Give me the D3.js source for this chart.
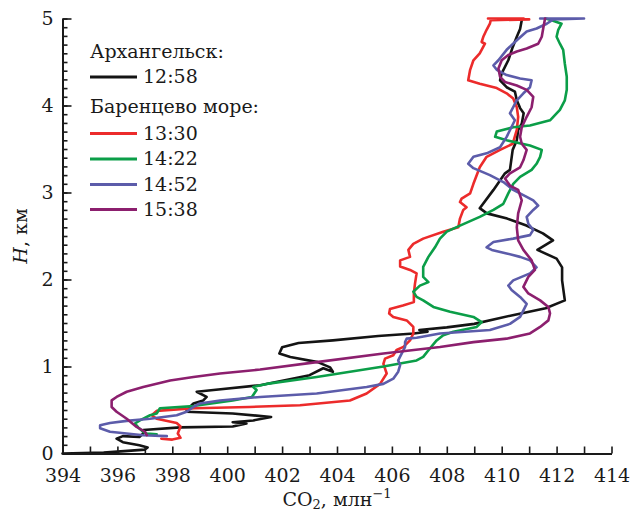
<!DOCTYPE html>
<html>
<head>
<meta charset="utf-8">
<script src="https://cdn.jsdelivr.net/npm/d3@7"></script>
<style>
  body { margin: 0; background: #fff; }
  text { font-family: "DejaVu Serif", serif; fill: #1a1a1a; }
</style>
</head>
<body>
<div class="chart"></div>
<script>
// CO2 profiles, [CO2 ppm, H km], bottom to top
let black1258 = [[394.0,0.00],[395.5,0.01],[397.0,0.045],[397.1,0.07],[396.8,0.095],[396.2,0.13],[395.97,0.17],[396.2,0.20],[396.8,0.19],[396.94,0.23],[396.94,0.27],[398.3,0.30],[400.2,0.31],[400.7,0.345],[400.2,0.36],[400.95,0.38],[401.6,0.42],[400.2,0.46],[398.5,0.48],[398.64,0.535],[398.77,0.575],[399.13,0.61],[399.25,0.65],[398.89,0.71],[399.5,0.73],[401.2,0.785],[403.0,0.90],[403.5,0.98],[403.85,0.94],[403.75,0.99],[403.3,1.05],[402.3,1.11],[401.9,1.15],[402.0,1.22],[402.6,1.27],[403.85,1.30],[405.5,1.35],[406.8,1.38],[407.3,1.40],[407.0,1.42],[408.0,1.45],[409.0,1.49],[410.4,1.59],[411.6,1.67],[412.3,1.76],[412.2,1.99],[412.2,2.14],[412.0,2.24],[411.3,2.34],[411.87,2.45],[411.5,2.53],[410.9,2.62],[410.2,2.70],[409.46,2.76],[409.2,2.82],[409.7,3.03],[410.12,3.22],[410.3,3.26],[410.4,3.49],[410.55,3.60],[410.6,3.72],[410.73,3.79],[410.8,3.91],[410.67,3.97],[410.55,4.06],[410.48,4.16],[410.18,4.21],[409.94,4.29],[410.0,4.37],[410.24,4.52],[410.4,4.67],[410.55,4.79],[410.67,4.88],[410.73,4.98]]

let red1330 = [[397.6,0.17],[398.0,0.16],[398.3,0.18],[398.2,0.23],[398.3,0.31],[398.16,0.35],[397.43,0.40],[397.25,0.44],[397.43,0.49],[398.8,0.52],[400.8,0.535],[402.65,0.555],[404.47,0.61],[405.08,0.69],[405.57,0.80],[405.81,0.92],[405.69,1.03],[405.75,1.09],[406.05,1.13],[406.17,1.19],[406.42,1.225],[406.66,1.30],[406.78,1.38],[406.78,1.455],[406.54,1.53],[406.05,1.57],[405.9,1.61],[405.93,1.66],[406.4,1.70],[406.8,1.74],[406.8,1.84],[406.84,1.95],[406.9,2.07],[406.66,2.11],[406.3,2.15],[406.3,2.22],[406.66,2.26],[406.6,2.34],[406.78,2.41],[407.14,2.47],[407.87,2.55],[408.42,2.60],[408.48,2.70],[408.6,2.80],[408.72,2.83],[408.48,2.89],[408.54,2.93],[408.85,2.99],[408.97,3.10],[409.2,3.29],[409.45,3.41],[409.94,3.49],[410.4,3.56],[410.55,3.72],[410.6,3.87],[410.55,3.98],[410.42,4.08],[410.18,4.14],[409.82,4.20],[409.2,4.25],[408.78,4.29],[408.85,4.41],[408.97,4.52],[409.2,4.60],[409.39,4.71],[409.27,4.73],[409.33,4.79],[409.45,4.87],[409.57,4.94],[409.6,4.98],[411.0,4.99],[409.5,5.0],[410.8,5.0]]

let green1422 = [[397.43,0.22],[397.07,0.23],[396.94,0.25],[396.76,0.30],[396.64,0.345],[396.82,0.38],[397.19,0.44],[397.43,0.46],[397.55,0.52],[398.77,0.545],[400.2,0.61],[400.9,0.65],[401.07,0.73],[400.95,0.765],[401.44,0.80],[403.26,0.88],[405.69,1.00],[406.9,1.07],[407.14,1.11],[407.39,1.21],[407.63,1.30],[407.87,1.36],[408.24,1.40],[409.09,1.455],[409.27,1.51],[408.97,1.57],[408.12,1.63],[407.51,1.685],[407.14,1.76],[406.9,1.80],[406.78,1.86],[407.02,1.93],[407.33,1.97],[407.14,2.03],[407.14,2.145],[407.33,2.26],[407.57,2.37],[407.75,2.47],[408.0,2.55],[408.48,2.62],[409.2,2.72],[409.7,2.80],[410.06,2.87],[410.24,2.99],[410.42,3.10],[410.67,3.18],[411.09,3.26],[411.27,3.33],[411.4,3.41],[411.46,3.49],[411.03,3.54],[410.18,3.60],[409.76,3.64],[409.82,3.70],[410.42,3.75],[411.03,3.77],[411.76,3.83],[412.12,3.95],[412.3,4.06],[412.37,4.18],[412.37,4.33],[412.3,4.48],[412.24,4.64],[412.12,4.71],[412.0,4.79],[412.06,4.87],[412.18,4.94],[411.82,4.98],[411.6,5.0]]

let blue1452 = [[397.8,0.20],[396.94,0.21],[395.73,0.25],[395.37,0.29],[395.37,0.325],[395.73,0.35],[396.34,0.375],[397.19,0.40],[398.16,0.44],[398.52,0.48],[398.77,0.535],[399.0,0.575],[399.74,0.61],[401.2,0.65],[403.26,0.69],[405.08,0.765],[405.69,0.80],[406.05,0.86],[406.23,0.94],[406.3,1.015],[406.23,1.07],[406.36,1.15],[406.48,1.225],[406.48,1.28],[406.54,1.32],[406.9,1.33],[407.75,1.38],[409.57,1.42],[410.3,1.49],[410.67,1.57],[410.8,1.65],[410.91,1.72],[410.67,1.80],[410.36,1.88],[410.24,1.93],[410.42,1.99],[411.03,2.07],[411.27,2.14],[411.03,2.22],[410.67,2.26],[410.18,2.30],[409.64,2.34],[409.45,2.37],[409.7,2.43],[410.42,2.47],[411.03,2.51],[411.15,2.57],[410.97,2.64],[410.91,2.72],[411.15,2.80],[411.33,2.85],[411.15,2.91],[410.91,2.95],[410.42,3.03],[410.06,3.12],[409.57,3.20],[408.97,3.28],[408.78,3.33],[408.97,3.41],[409.45,3.45],[409.94,3.52],[410.18,3.64],[410.48,3.83],[410.3,3.91],[410.42,3.98],[410.55,4.06],[410.79,4.14],[411.03,4.21],[411.09,4.29],[410.67,4.31],[410.18,4.35],[409.82,4.41],[409.7,4.46],[409.88,4.52],[410.18,4.64],[410.55,4.75],[410.91,4.85],[411.27,4.885],[411.64,4.94],[411.88,4.99],[413.0,5.0],[411.4,5.0]]

let purple1538 = [[397.07,0.21],[397.0,0.25],[396.7,0.305],[396.34,0.40],[395.97,0.48],[395.79,0.535],[395.79,0.61],[395.97,0.65],[396.34,0.71],[396.94,0.765],[397.92,0.84],[398.77,0.88],[399.74,0.92],[401.2,0.965],[403.26,1.05],[405.69,1.15],[407.75,1.225],[408.97,1.28],[410.18,1.32],[411.03,1.38],[411.4,1.455],[411.7,1.53],[411.76,1.61],[411.7,1.685],[411.4,1.76],[410.97,1.84],[410.79,1.915],[410.97,2.03],[411.21,2.11],[411.09,2.22],[410.79,2.34],[410.6,2.45],[410.55,2.60],[410.6,2.76],[410.73,2.91],[410.6,3.03],[410.3,3.08],[410.12,3.16],[410.3,3.22],[410.67,3.29],[410.79,3.37],[410.91,3.49],[410.73,3.56],[410.67,3.64],[410.73,3.75],[410.91,3.87],[411.09,3.98],[411.15,4.10],[410.91,4.18],[410.55,4.23],[410.12,4.27],[409.94,4.33],[409.88,4.425],[410.0,4.52],[410.24,4.58],[410.55,4.62],[410.91,4.655],[411.33,4.71],[411.46,4.79],[411.52,4.90],[411.58,5.0]]

let times = ["12:58", "13:30", "14:22", "14:52", "15:38"]
let colors = ["#141414", "#ec2b2b", "#0b9e48", "#5c5caa", "#8c1f6e"]
let profiles = [black1258, red1330, green1422, blue1452, purple1538]
let xTicks = d3.range(394, 415, 1)
let yMajor = [0, 1, 2, 3, 4, 5]
let yMinor = d3.range(0, 51).map(d => d / 10)

let w = 632
let h = 515
let padL = 62.5, padR = 611.5, padT = 18.5, padB = 453.5

let svg = d3.select(".chart")
  .append("svg")
  .attr("width", w)
  .attr("height", h)

const xScale = d3.scaleLinear().domain([394, 414]).range([padL, padR])
const yScale = d3.scaleLinear().domain([0, 5]).range([padB, padT])

// curves
let line = d3.line()
  .x(d => xScale(d[0]))
  .y(d => yScale(d[1]))

svg.selectAll(".profile")
  .data(profiles)
  .enter()
  .append("path")
  .attr("class", "profile")
  .attr("d", d => line(d))
  .attr("fill", "none")
  .attr("stroke", (d, i) => colors[i])
  .attr("stroke-width", 2.6)
  .attr("stroke-linejoin", "round")
  .attr("stroke-linecap", "round")

// x axis, ticks point inward
let xAxis = d3.axisBottom(xScale)
  .tickValues(xTicks)
  .tickSize(-7)
  .tickSizeOuter(0)
  .tickPadding(15)
  .tickFormat(d => d % 2 === 0 ? d : "")

let gx = svg.append("g")
  .attr("transform", "translate(0," + padB + ")")
  .call(xAxis)
gx.selectAll("text").style("font-size", "19px").attr("fill", "#1a1a1a")

// y axis: minor then major
svg.append("g")
  .attr("transform", "translate(" + padL + ",0)")
  .call(d3.axisLeft(yScale).tickValues(yMinor).tickSize(-5).tickSizeOuter(0).tickFormat(""))

let gy = svg.append("g")
  .attr("transform", "translate(" + padL + ",0)")
  .call(d3.axisLeft(yScale).tickValues(yMajor).tickSize(-9).tickSizeOuter(0).tickPadding(9).tickFormat(d3.format("d")))
gy.selectAll("text").style("font-size", "19px").attr("fill", "#1a1a1a")

svg.selectAll(".domain").attr("stroke", "#1a1a1a").attr("stroke-width", 2)
svg.selectAll(".tick line").attr("stroke", "#1a1a1a").attr("stroke-width", 1.6)

// axis titles
let xt = svg.append("text")
  .attr("x", (padL + padR) / 2)
  .attr("y", 506)
  .attr("text-anchor", "middle")
  .style("font-size", "19px")
xt.append("tspan").text("CO")
xt.append("tspan").text("2").attr("dy", 3).style("font-size", "13px")
xt.append("tspan").text(", млн").attr("dy", -3)
xt.append("tspan").text("−1").attr("dy", -8).style("font-size", "13px")

let yt = svg.append("text")
  .attr("transform", "translate(27," + ((padT + padB) / 2) + ") rotate(-90)")
  .attr("text-anchor", "middle")
  .style("font-size", "19px")
yt.append("tspan").text("H").style("font-style", "italic")
yt.append("tspan").text(", км")

// legend
let legendX = 90
svg.append("text").attr("x", legendX).attr("y", 58).style("font-size", "19px").text("Архангельск:")
svg.append("text").attr("x", legendX).attr("y", 113).style("font-size", "19px").text("Баренцево море:")

let legendY = [83, 139.5, 165, 190.5, 215.5]
svg.selectAll(".legline")
  .data(times)
  .enter()
  .append("line")
  .attr("x1", legendX).attr("x2", legendX + 47)
  .attr("y1", (d, i) => legendY[i] - 6).attr("y2", (d, i) => legendY[i] - 6)
  .attr("stroke", (d, i) => colors[i])
  .attr("stroke-width", 2.8)
svg.selectAll(".leglabel")
  .data(times)
  .enter()
  .append("text")
  .attr("x", legendX + 53)
  .attr("y", (d, i) => legendY[i])
  .style("font-size", "19px")
  .text(d => d)
</script>
</body>
</html>
